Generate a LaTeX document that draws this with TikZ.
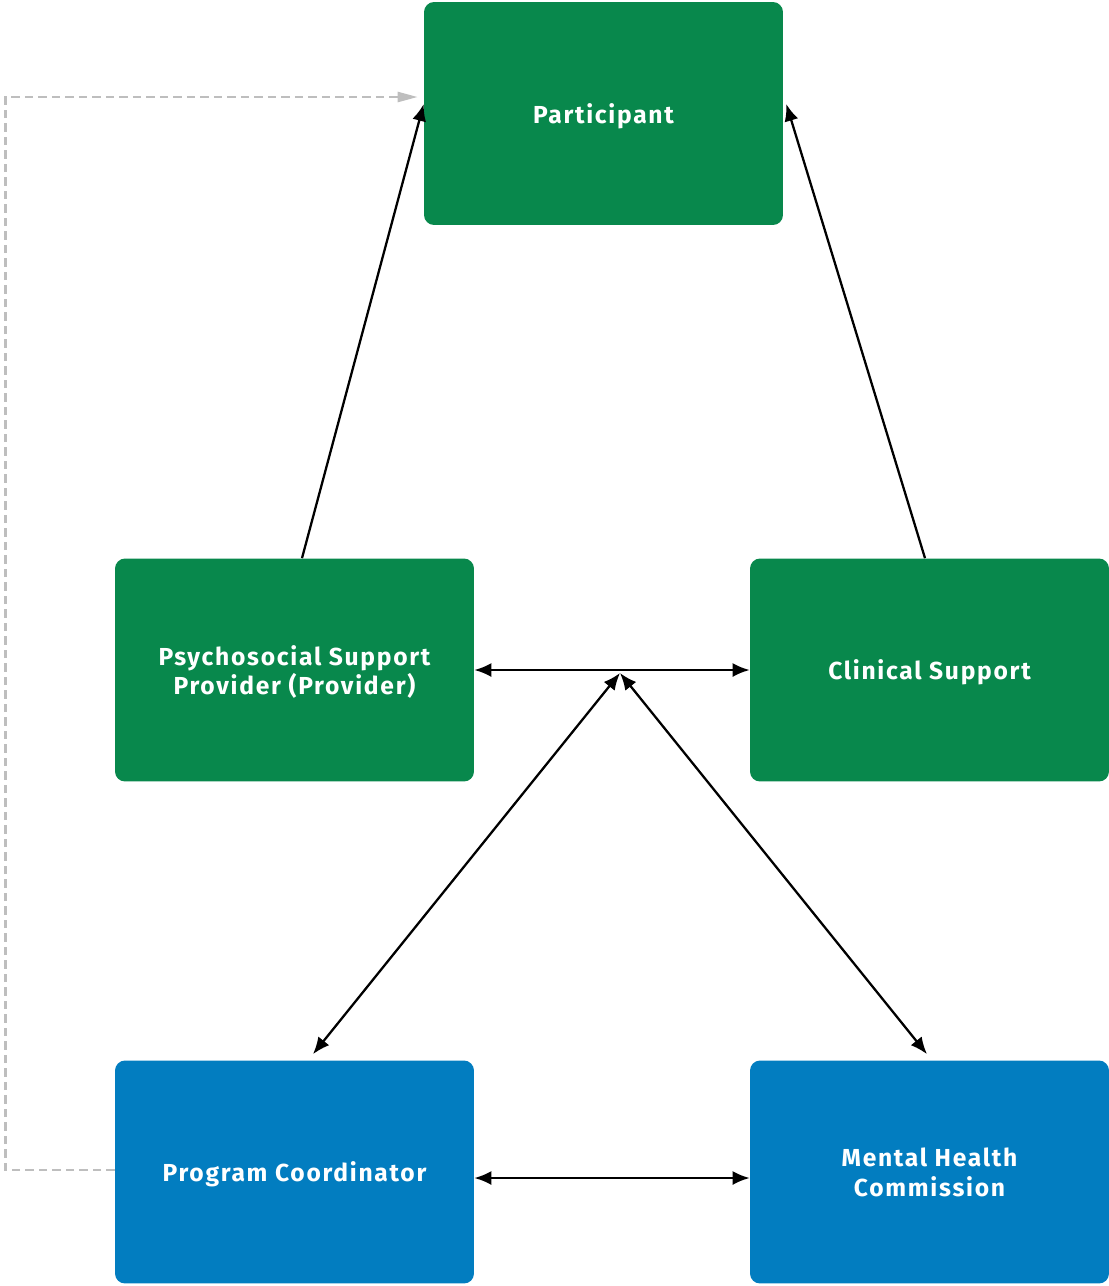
\documentclass[tikz,border=0pt]{standalone}
\usepackage{fontspec}
\setmainfont{Fira Sans}[LetterSpace=7]
\usetikzlibrary{arrows.meta}
\definecolor{boxgreen}{RGB}{8,136,76}
\definecolor{boxblue}{RGB}{2,125,192}
\definecolor{linkgray}{RGB}{190,190,190}
\tikzset{
  role/.style={rectangle, rounded corners=0.2cm, minimum width=7.18cm, minimum height=4.46cm,
    text depth=0pt, text=white, align=center, font=\fontsize{14}{17}\selectfont\bfseries},
  link/.style={line width=1.3pt, black, {Latex[length=0.34cm,width=0.28cm]}-{Latex[length=0.34cm,width=0.28cm]}},
  uplink/.style={line width=1.3pt, black, -{Latex[length=0.34cm,width=0.28cm]}}
}
\begin{document}
\begin{tikzpicture}[x=0.02cm,y=-0.02cm]
\useasboundingbox (0,0) rectangle (1109,1286);
%%% the five roles
\node[role, fill=boxgreen] (part) at (603.5,113.5) {Participant};
\node[role, fill=boxgreen] (psp) at (294.5,670) {Psychosocial Support\\Provider (Provider)};
\node[role, fill=boxgreen] (cs) at (929.5,670) {Clinical Support};
\node[role, fill=boxblue] (pc) at (294.5,1172) {Program Coordinator};
\node[role, fill=boxblue] (mhc) at (929.5,1172) {Mental Health\\Commission};
% meeting point of the lower links
\coordinate (hub) at (620,673);
%%% links up to the participant
\draw[uplink] ([xshift=0.15cm]psp.north) -- ([yshift=0.19cm]part.west);
\draw[uplink] ([xshift=-0.09cm]cs.north) -- ([xshift=0.06cm,yshift=0.19cm]part.east);
%%% two way links
\draw[link] (psp.east) -- (cs.west);
\draw[link] ([yshift=-0.12cm]pc.east) -- ([yshift=-0.12cm]mhc.west);
\draw[link] ([xshift=0.37cm,yshift=0.12cm]pc.north) -- (hub);
\draw[link] ([xshift=-0.05cm,yshift=0.12cm]mhc.north) -- (hub);
%dashed
\draw[linkgray, line width=1.4pt, dash pattern=on 0.17cm off 0.1cm,
  -{Triangle[length=0.4cm,width=0.2cm]}]
  ([yshift=0.04cm]pc.west) -- ++(-109,0) |- ([xshift=-0.12cm,yshift=0.33cm]part.west);
\end{tikzpicture}
\end{document}
